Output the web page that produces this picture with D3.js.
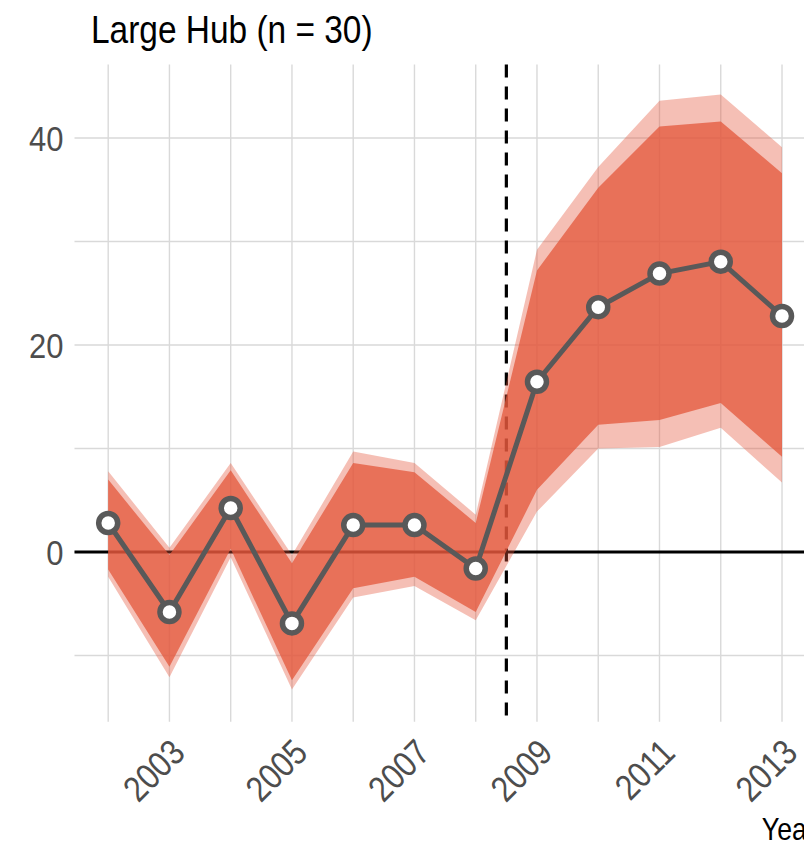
<!DOCTYPE html>
<html>
<head>
<meta charset="utf-8">
<script src="https://cdn.jsdelivr.net/npm/d3@7"></script>
<style>
  body { margin: 0; background: #fff; }
  svg text { font-family: "Liberation Sans", Arial, sans-serif; }
</style>
</head>
<body>
<div id="chart"></div>
<script>
// data
var years = [2002, 2003, 2004, 2005, 2006, 2007, 2008, 2009, 2010, 2011, 2012, 2013];
var estimate = [2.8, -5.8, 4.25, -6.9, 2.6, 2.6, -1.6, 16.45, 23.65, 26.9, 28.05, 22.8];
var lo90 = [-1.7, -11.1, 0.3, -12.4, -3.5, -2.4, -5.8, 6.0, 12.3, 12.75, 14.4, 9.2];
var hi90 = [7.0, -0.3, 7.9, -1.1, 8.6, 7.7, 2.8, 27.2, 35.2, 41.1, 41.6, 36.6];
var lo95 = [-2.4, -12.1, -0.5, -13.3, -4.4, -3.3, -6.6, 3.9, 10.0, 10.15, 12.0, 6.7];
var hi95 = [7.8, 0.4, 8.6, -0.3, 9.7, 8.6, 3.6, 29.2, 37.2, 43.6, 44.2, 39.1];
var xTicks = [2003, 2005, 2007, 2009, 2011, 2013];
var yTicks = [0, 20, 40];
var yGrid = [-10, 0, 10, 20, 30, 40];
var breakYear = 2008.5;
var title = "Large Hub (n = 30)";
var xTitle = "Year";

var width = 804, height = 843;
var panel = {left: 74.5, right: 815.7, top: 64.5, bottom: 721.7};
var narrow = 0.86; // the original font is a condensed one

var rows = years.map(function(yr, i) {
  return {year: yr, est: estimate[i], lo90: lo90[i], hi90: hi90[i], lo95: lo95[i], hi95: hi95[i]};
});

// scales (ggplot style 5% padding)
var x = d3.scaleLinear().domain([2001.45, 2013.55]).range([panel.left, panel.right]);
var y = d3.scaleLinear().domain([-16.4, 47.1]).range([panel.bottom, panel.top]);

var svg = d3.select("#chart").append("svg")
  .attr("width", width)
  .attr("height", height);

// grid
svg.append("g").selectAll("line").data(years).enter().append("line")
  .attr("x1", function(d) { return x(d); })
  .attr("x2", function(d) { return x(d); })
  .attr("y1", panel.top).attr("y2", panel.bottom)
  .attr("stroke", "#d9d9d9").attr("stroke-width", 1.4);
svg.append("g").selectAll("line").data(yGrid).enter().append("line")
  .attr("x1", panel.left).attr("x2", panel.right)
  .attr("y1", function(d) { return y(d); })
  .attr("y2", function(d) { return y(d); })
  .attr("stroke", "#d9d9d9").attr("stroke-width", 1.4);

// zero line
svg.append("line")
  .attr("x1", panel.left).attr("x2", panel.right)
  .attr("y1", y(0)).attr("y2", y(0))
  .attr("stroke", "#000").attr("stroke-width", 3);

// break line
svg.append("line")
  .attr("x1", x(breakYear)).attr("x2", x(breakYear))
  .attr("y1", panel.top).attr("y2", panel.bottom)
  .attr("stroke", "#000").attr("stroke-width", 3.2)
  .attr("stroke-dasharray", "13,9");

// ribbons
var area95 = d3.area()
  .x(function(d) { return x(d.year); })
  .y0(function(d) { return y(d.lo95); })
  .y1(function(d) { return y(d.hi95); });
var area90 = d3.area()
  .x(function(d) { return x(d.year); })
  .y0(function(d) { return y(d.lo90); })
  .y1(function(d) { return y(d.hi90); });

svg.append("path").datum(rows)
  .attr("d", area95)
  .attr("fill", "rgb(228,88,60)").attr("fill-opacity", 0.38);
svg.append("path").datum(rows)
  .attr("d", area90)
  .attr("fill", "rgb(228,88,60)").attr("fill-opacity", 0.76);

// estimate line
var line = d3.line()
  .x(function(d) { return x(d.year); })
  .y(function(d) { return y(d.est); });
svg.append("path").datum(rows)
  .attr("d", line)
  .attr("fill", "none")
  .attr("stroke", "#595959").attr("stroke-width", 5);

svg.append("g").selectAll("circle").data(rows).enter().append("circle")
  .attr("cx", function(d) { return x(d.year); })
  .attr("cy", function(d) { return y(d.est); })
  .attr("r", 9.5)
  .attr("fill", "#fff")
  .attr("stroke", "#595959").attr("stroke-width", 5.5);

// axes
var xAxis = svg.append("g")
  .attr("transform", "translate(0," + panel.bottom + ")")
  .call(d3.axisBottom(x).tickValues(xTicks).tickSize(0).tickFormat(d3.format("d")));
xAxis.select(".domain").remove();
xAxis.selectAll("text")
  .attr("x", 0).attr("y", 0).attr("dy", 0)
  .attr("text-anchor", "end")
  .attr("transform", "translate(17,33) rotate(-45) scale(" + narrow + ",1)")
  .attr("fill", "#4d4d4d")
  .style("font-size", "36px");

var yAxis = svg.append("g")
  .attr("transform", "translate(" + panel.left + ",0)")
  .call(d3.axisLeft(y).tickValues(yTicks).tickSize(0));
yAxis.select(".domain").remove();
yAxis.selectAll("text")
  .attr("x", 0).attr("dy", "0.36em")
  .attr("transform", "translate(-11,0) scale(" + narrow + ",1)")
  .attr("fill", "#4d4d4d")
  .style("font-size", "36px");

// titles
svg.append("text")
  .attr("transform", "translate(91,43) scale(0.88,1)")
  .attr("fill", "#000")
  .style("font-size", "38px")
  .text(title);

svg.append("text")
  .attr("transform", "translate(" + panel.right + ",840) scale(" + narrow + ",1)")
  .attr("text-anchor", "end")
  .attr("fill", "#000")
  .style("font-size", "31px")
  .text(xTitle);
</script>
</body>
</html>
